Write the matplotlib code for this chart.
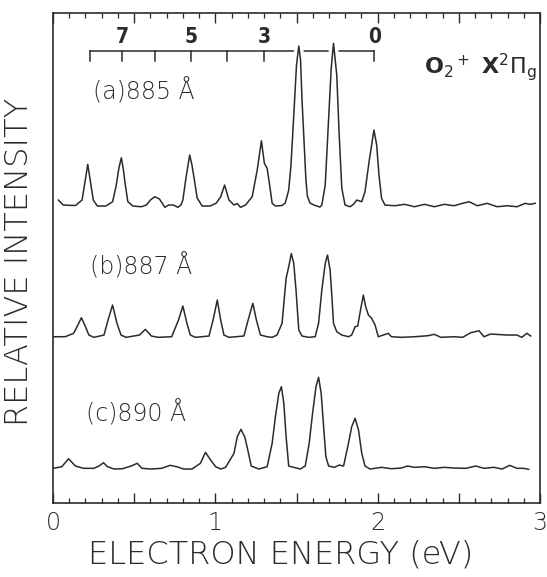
import matplotlib
matplotlib.use("Agg")
import matplotlib.pyplot as plt
import matplotlib.patheffects as pe
from matplotlib.ticker import MultipleLocator, FuncFormatter

# photoelectron spectra, O2+ X state, three photon wavelengths
energy_a = [0.033, 0.063, 0.138, 0.179, 0.197, 0.214, 0.231, 0.248, 0.273,
            0.325, 0.367, 0.388, 0.406, 0.421, 0.434, 0.444, 0.461, 0.492,
            0.544, 0.575, 0.600, 0.627, 0.656, 0.689, 0.711, 0.742, 0.769,
            0.788, 0.800, 0.819, 0.842, 0.856, 0.869, 0.888, 0.919, 0.969,
            1.006, 1.033, 1.057, 1.084, 1.115, 1.135, 1.155,
            1.186, 1.227, 1.258, 1.284, 1.302, 1.319, 1.333, 1.350, 1.370, 1.411, 1.431,
            1.452, 1.466, 1.485, 1.500, 1.514, 1.525, 1.534, 1.546, 1.558, 1.567, 1.583, 1.607, 1.644,
            1.656, 1.677, 1.698, 1.714, 1.728, 1.748, 1.763, 1.779, 1.799, 1.830, 1.853, 1.871, 1.902,
            1.922, 1.947, 1.977, 1.994, 2.008, 2.024, 2.045,
            2.105, 2.166, 2.227, 2.288, 2.349, 2.410, 2.471, 2.523, 2.563, 2.614,
            2.675, 2.736, 2.797, 2.858, 2.909, 2.939, 2.970]
intensity_a = [7, 2, 1.5, 7, 25, 42.7, 25, 7, 1,
               1, 5.3, 20.3, 39, 49.3, 37, 23.7, 5.3, 1,
               0.3, 2, 7, 10.3, 8, -0.3, 2, 2, -0.3,
               2, 7, 29, 52, 42, 29, 9, 1, 1,
               4, 10.3, 22, 7, 2, 3.5, -0.3,
               2, 10.3, 37, 66.3, 43.7, 38.7, 23.7, 3.7, 1, 1.5, 4,
               17, 42, 97, 142, 161, 147, 107, 67, 27, 11, 4, 2, 0,
               2, 22, 89, 139, 163.7, 132, 72, 19, 2, 0.3, 3, 7, 5.3,
               15.3, 45.3, 77, 62, 32, 8.7, 2,
               1.3, 2.7, 0.3, 2.7, 0.3, 2.7, 1.3, 3.7, 5.3, 1.3,
               3.7, 0.3, 1.3, 0.3, 3.7, 2.7, 3.7]

energy_b = [0.002, 0.075, 0.127, 0.148, 0.175, 0.200, 0.221, 0.252,
            0.314, 0.339, 0.367, 0.394, 0.419, 0.450,
            0.533, 0.569, 0.606, 0.648,
            0.731, 0.773, 0.800, 0.825, 0.846, 0.877,
            0.961, 0.986, 1.012, 1.033, 1.053, 1.084,
            1.176, 1.202, 1.231, 1.253, 1.278, 1.319, 1.350, 1.380,
            1.411, 1.436, 1.452, 1.468, 1.483, 1.497, 1.514, 1.534, 1.575, 1.615,
            1.636, 1.656, 1.677, 1.691, 1.707, 1.718, 1.728, 1.748, 1.779, 1.820, 1.840,
            1.861, 1.877, 1.898, 1.912, 1.926, 1.943, 1.963, 1.984, 2.004, 2.035, 2.065, 2.085,
            2.146, 2.227, 2.309, 2.349, 2.390, 2.471, 2.523, 2.573, 2.624, 2.655,
            2.695, 2.797, 2.858, 2.888, 2.919, 2.943]
intensity_b = [0.8, 0.8, 4.2, 10.8, 19.8, 10.8, 2.5, 0.2,
               2.5, 17.5, 32.5, 14.2, 2.5, 0.2,
               2.5, 8.2, 1.5, 0.2,
               0.8, 17.5, 31.5, 14.2, 2.5, 0.2,
               1.5, 17.5, 37.5, 17.5, 2.5, 0.2,
               1.5, 17.5, 34.2, 17.5, 2.5, 0.8, 0.2, 2.5,
               14.2, 59.2, 70.8, 84, 74.2, 47.5, 7.5, 1.5, 0.2, 0.8,
               14.2, 47.5, 74.2, 82.5, 67.5, 40.8, 14.2, 5.8, 2.5, 0.8, 2.5,
               10.8, 11.5, 30.8, 42.5, 30.8, 22.5, 19.2, 12.5, 0.8, 2.5, 4.2, 0.8,
               0.2, 0.8, 1.8, 3.2, 0.2, 0.8, 0.2, 4.8, 6.8, 0.8,
               3.5, 2.5, 2.5, 0.2, 4.2, 1.5]

energy_c = [0.002, 0.054, 0.096, 0.138, 0.189, 0.252,
            0.283, 0.311, 0.336, 0.377, 0.429, 0.481, 0.519, 0.548, 0.606, 0.669,
            0.721, 0.763, 0.804, 0.856, 0.908, 0.939, 0.971, 1.002, 1.033, 1.063,
            1.115, 1.135, 1.158, 1.182, 1.200, 1.221, 1.268, 1.319,
            1.350, 1.370, 1.391, 1.407, 1.422, 1.436, 1.452, 1.483, 1.523, 1.554,
            1.578, 1.599, 1.620, 1.636, 1.652, 1.667, 1.681, 1.698, 1.734, 1.763, 1.790,
            1.820, 1.840, 1.861, 1.882, 1.902, 1.922, 1.953,
            2.024, 2.085, 2.146, 2.183, 2.227, 2.288, 2.349, 2.410, 2.471, 2.543,
            2.604, 2.655, 2.716, 2.767, 2.813, 2.858, 2.899, 2.930]
intensity_c = [1.2, 2.8, 10.8, 3.5, 1.2, 1.2,
               3.5, 6.8, 2.8, 0.5, 0.8, 3.5, 6.2, 1.2, 0.5, 1.2,
               4.2, 2.8, 0.5, 0.5, 6.2, 17.2, 9.5, 2.8, 0.5, 2.2,
               16.2, 32.8, 40.2, 32.2, 19.5, 3.5, 0.5, 2.8,
               26.2, 52.8, 76.2, 82.8, 66.2, 32.8, 3.5, 2.2, 0.5, 3.5,
               26.2, 56.2, 82.8, 92.2, 76.2, 42.8, 12.8, 3.5, 2.2, 4.5, 3.5,
               26.2, 42.8, 51.2, 39.5, 16.2, 3.5, 0.5,
               2.2, 0.8, 1.5, 3.5, 2.2, 2.8, 1.2, 2.2, 1.5, 1.2,
               3.5, 1.2, 2.2, 0.5, 4.2, 1.2, 1.2, 0.2]

spectra = [("(a)885 Å", energy_a, intensity_a),
           ("(b)887 Å", energy_b, intensity_b),
           ("(c)890 Å", energy_c, intensity_c)]

# vibrational levels v = 0..8 of O2+ X2Pi_g at 885 A
comb_energy = [1.98, 1.75, 1.52, 1.30, 1.07, 0.85, 0.63, 0.425, 0.225]
comb_labels = {0: "0", 3: "3", 5: "5", 7: "7"}

offsets = [296, 165.5, 33.5]
label_pos = [(0.244, 413), (0.227, 238), (0.206, 91)]
ink = "#2b2b2b"
font = "DejaVu Sans"

fig = plt.figure(figsize=(5.47, 5.77), dpi=100)
ax = fig.add_axes([0.0969, 0.1282, 0.8903, 0.8492])

for (name, e, inten), off, (tx, ty) in zip(spectra, offsets, label_pos):
    ax.plot(e, [v + off for v in inten], color=ink, lw=1.1, zorder=2,
            path_effects=[pe.Stroke(linewidth=6, foreground="white"), pe.Normal()])
    ax.text(tx, ty, name, fontsize=17, family=font, fontweight="light",
            color=ink, ha="left", va="center")

# progression comb above spectrum (a)
comb_y = 452.3
ax.plot([comb_energy[-1], comb_energy[0]], [comb_y, comb_y], color=ink, lw=1.1, zorder=1)
for v, e in enumerate(comb_energy):
    ax.plot([e, e], [comb_y, comb_y - 10], color=ink, lw=1.1, zorder=1)
    if v in comb_labels:
        ax.text(e, comb_y + 14, comb_labels[v], fontsize=15, fontweight="bold",
                family="DejaVu Sans", fontstretch="condensed", color=ink,
                ha="center", va="center")

ax.text(2.98, 436, r"O$_2$$^+$ X$^2$$\Pi_{\rm g}$", fontsize=16, fontweight="bold",
        color=ink, ha="right", va="center")

ax.set_xlim(0, 3)
ax.set_ylim(0, 490)
ax.xaxis.set_major_locator(MultipleLocator(0.5))
ax.xaxis.set_minor_locator(MultipleLocator(0.1))
ax.xaxis.set_major_formatter(FuncFormatter(lambda x, p: "%d" % x if abs(x - round(x)) < 1e-6 else ""))
ax.tick_params(axis="x", which="both", direction="in", top=True, colors=ink)
ax.tick_params(axis="x", which="major", length=7, width=1, pad=6, labelsize=17)
ax.tick_params(axis="x", which="minor", length=3.5, width=0.9)
ax.set_yticks([])
for lbl in ax.get_xticklabels():
    lbl.set_family(font)
    lbl.set_fontweight("light")
for s in ax.spines.values():
    s.set_color(ink)
    s.set_linewidth(1.2)

fig.text(281 / 547, 1 - 554 / 577, "ELECTRON ENERGY (eV)", fontsize=23, family=font,
         fontweight="light", color=ink, ha="center", va="center")
fig.text(19 / 547, 1 - 262 / 577, "RELATIVE INTENSITY", fontsize=23, family=font,
         fontweight="light", color=ink, ha="center", va="center", rotation=90)

fig.savefig("out.png", dpi=100)
